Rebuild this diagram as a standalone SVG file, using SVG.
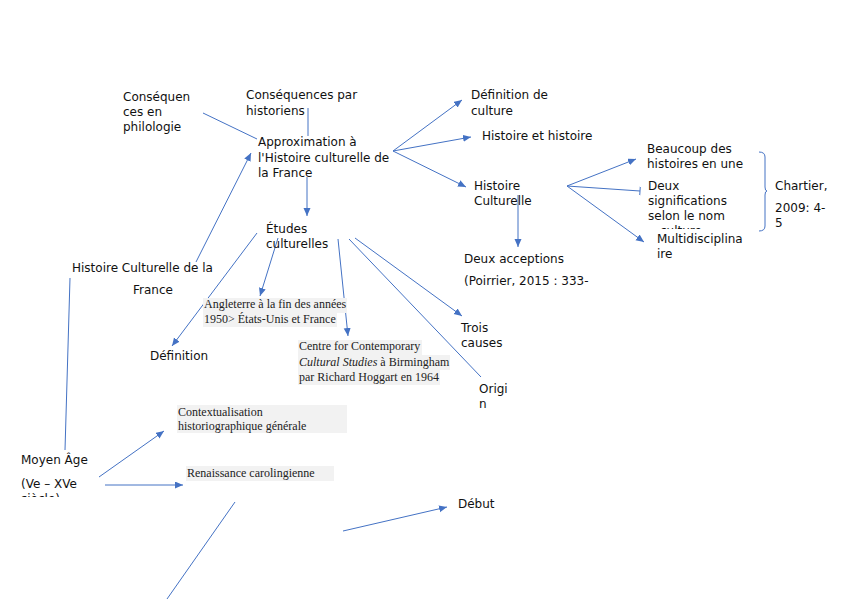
<svg xmlns="http://www.w3.org/2000/svg" width="848" height="599" viewBox="0 0 848 599">
<style>
.t{font-family:"DejaVu Sans","Liberation Sans",sans-serif;font-size:12px;fill:#111}
.s{font-family:"Liberation Serif","Times New Roman",serif;font-size:12px;fill:#222}
.bg{fill:#f2f2f2}
.c{stroke:#4472c4;stroke-width:1;fill:none}
</style>
<defs>
<marker id="a" markerUnits="userSpaceOnUse" markerWidth="9" markerHeight="8" refX="8" refY="3.5" orient="auto">
<path d="M0,0 L8,3.5 L0,7 z" fill="#4472c4"/>
</marker>
<marker id="tee" markerUnits="userSpaceOnUse" markerWidth="3" markerHeight="9" refX="1" refY="4.5" orient="auto">
<path d="M1,0 L1,9" stroke="#4472c4" stroke-width="1"/>
</marker>
<clipPath id="cpD"><rect x="640" y="178" width="110" height="51"/></clipPath>
<clipPath id="cpM"><rect x="10" y="450" width="100" height="47"/></clipPath>
</defs>

<g id="connectors">
<line class="c" x1="203" y1="113" x2="257" y2="139"/>
<line class="c" x1="308" y1="108" x2="308" y2="136"/>
<line class="c" x1="196" y1="262" x2="251" y2="153" marker-end="url(#a)"/>
<line class="c" x1="307" y1="177" x2="307" y2="216" marker-end="url(#a)"/>
<line class="c" x1="393" y1="151" x2="462" y2="100" marker-end="url(#a)"/>
<line class="c" x1="393" y1="151" x2="471" y2="137" marker-end="url(#a)"/>
<line class="c" x1="393" y1="151" x2="466" y2="187" marker-end="url(#a)"/>
<line class="c" x1="518" y1="195" x2="518" y2="247" marker-end="url(#a)"/>
<line class="c" x1="567" y1="186" x2="636" y2="159" marker-end="url(#a)"/>
<line class="c" x1="567" y1="186" x2="640" y2="191" marker-end="url(#tee)"/>
<line class="c" x1="567" y1="186" x2="644" y2="242" marker-end="url(#a)"/>
<path class="c" d="M759,152 Q765,152 765,157 L765,187 Q765,191 767,191 Q765,191 765,195 L765,226 Q765,231 759,231"/>
<line class="c" x1="257" y1="233" x2="172" y2="346" marker-end="url(#a)"/>
<line class="c" x1="278" y1="238" x2="260" y2="296" marker-end="url(#a)"/>
<line class="c" x1="338" y1="239" x2="348" y2="336" marker-end="url(#a)"/>
<line class="c" x1="355" y1="238" x2="462" y2="316" marker-end="url(#a)"/>
<line class="c" x1="349" y1="239" x2="481" y2="377"/>
<line class="c" x1="70" y1="278" x2="65" y2="450"/>
<line class="c" x1="99" y1="477" x2="164" y2="431" marker-end="url(#a)"/>
<line class="c" x1="105" y1="485" x2="183" y2="485" marker-end="url(#a)"/>
<line class="c" x1="235" y1="502" x2="167" y2="599"/>
<line class="c" x1="343" y1="531" x2="447" y2="507" marker-end="url(#a)"/>
</g>

<g id="n-philologie"><text class="t" x="123" y="101">Conséquen</text><text class="t" x="123" y="116">ces en</text><text class="t" x="123" y="131">philologie</text></g>
<g id="n-historiens"><text class="t" x="246" y="99">Conséquences par</text><text class="t" x="246" y="115">historiens</text></g>
<g id="n-approx"><text class="t" x="258" y="146">Approximation à</text><text class="t" x="258" y="162">l'Histoire culturelle de</text><text class="t" x="258" y="177">la France</text></g>
<g id="n-defculture"><text class="t" x="471" y="99">Définition de</text><text class="t" x="471" y="115">culture</text></g>
<g id="n-histhist"><text class="t" x="482" y="140">Histoire et histoire</text></g>
<g id="n-histcult"><text class="t" x="474" y="190">Histoire</text><text class="t" x="474" y="205">Culturelle</text></g>
<g id="n-beaucoup"><text class="t" x="647" y="153">Beaucoup des</text><text class="t" x="647" y="168">histoires en une</text></g>
<g id="n-deuxsig" clip-path="url(#cpD)"><text class="t" x="648" y="190">Deux</text><text class="t" x="648" y="205">significations</text><text class="t" x="648" y="220">selon le nom</text><text class="t" x="660" y="235">culture</text></g>
<g id="n-multi"><text class="t" x="657" y="243">Multidisciplina</text><text class="t" x="657" y="258">ire</text></g>
<g id="n-chartier"><text class="t" x="775" y="190">Chartier,</text><text class="t" x="775" y="212">2009: 4-</text><text class="t" x="775" y="227">5</text></g>
<g id="n-deuxacc"><text class="t" x="464" y="263">Deux acceptions</text><text class="t" x="464" y="285">(Poirrier, 2015 : 333-</text></g>
<g id="n-etudes"><text class="t" x="266" y="233">Études</text><text class="t" x="266" y="248">culturelles</text></g>
<g id="n-hcf"><text class="t" x="72" y="272">Histoire Culturelle de la</text><text class="t" x="133" y="294">France</text></g>
<g id="n-angleterre"><rect class="bg" x="203" y="298" width="144" height="15"/><rect class="bg" x="203" y="313" width="134" height="14"/><text class="s" x="204" y="308">Angleterre à la fin des années</text><text class="s" x="204" y="323">1950&gt; États-Unis et France</text></g>
<g id="n-definition"><text class="t" x="150" y="360">Définition</text></g>
<g id="n-centre"><rect class="bg" x="298" y="340" width="124" height="15"/><rect class="bg" x="298" y="355" width="152" height="15"/><rect class="bg" x="298" y="370" width="142" height="15"/><text class="s" x="299" y="350">Centre for Contemporary</text><text class="s" x="299" y="366"><tspan font-style="italic">Cultural Studies</tspan> à Birmingham</text><text class="s" x="299" y="381">par Richard Hoggart en 1964</text></g>
<g id="n-trois"><text class="t" x="461" y="332">Trois</text><text class="t" x="461" y="347">causes</text></g>
<g id="n-origin"><text class="t" x="479" y="393">Origi</text><text class="t" x="479" y="408">n</text></g>
<g id="n-context"><rect class="bg" x="177" y="405" width="170" height="28"/><text class="s" x="178" y="416">Contextualisation</text><text class="s" x="178" y="430">historiographique générale</text></g>
<g id="n-renaissance"><rect class="bg" x="186" y="466" width="148" height="15"/><text class="s" x="187" y="477">Renaissance carolingienne</text></g>
<g id="n-moyen" clip-path="url(#cpM)"><text class="t" x="21" y="464">Moyen Âge</text><text class="t" x="21" y="488">(Ve – XVe</text><text class="t" x="21" y="503">siècle)</text></g>
<g id="n-debut"><text class="t" x="458" y="508">Début</text></g>
</svg>
